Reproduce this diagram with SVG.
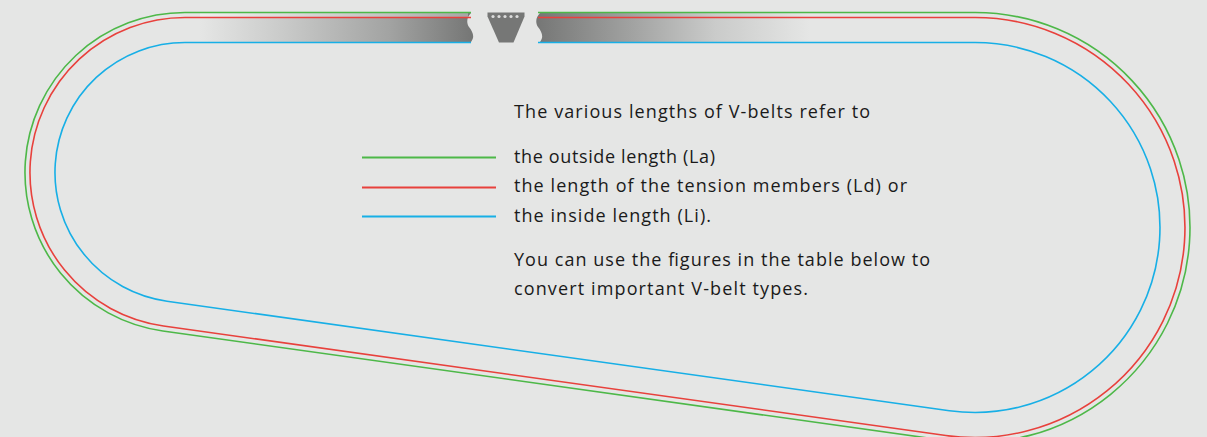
<svg xmlns="http://www.w3.org/2000/svg" width="1207" height="437" viewBox="0 0 1207 437">
  <style>
    .belt { fill: none; stroke-width: 1.6; stroke-linejoin: round; }
    .la { stroke: #4db848; }
    .ld { stroke: #e8413c; }
    .li { stroke: #17afe6; }
    .key { stroke-width: 2.2; }
    .txt { font-family: "Open Sans", "Liberation Sans", Arial, sans-serif; font-size: 18px; fill: #1a1a1a; }
    .rubber { fill: #767776; }
  </style>
  <defs>
    <linearGradient id="fadeLeft" gradientUnits="userSpaceOnUse" x1="200" y1="0" x2="471" y2="0">
      <stop offset="0" stop-color="#e5e6e5"/>
      <stop offset="0.3" stop-color="#cacbca"/>
      <stop offset="0.7" stop-color="#a2a3a2"/>
      <stop offset="1" stop-color="#767776"/>
    </linearGradient>
    <linearGradient id="fadeRight" gradientUnits="userSpaceOnUse" x1="538" y1="0" x2="810" y2="0">
      <stop offset="0" stop-color="#767776"/>
      <stop offset="0.35" stop-color="#a2a3a2"/>
      <stop offset="0.65" stop-color="#cacbca"/>
      <stop offset="1" stop-color="#e5e6e5"/>
    </linearGradient>
  </defs>

  <rect width="1207" height="437" fill="#e5e6e5"/>

  <!-- cut belt section on the top run -->
  <g id="belt-section">
    <path fill="url(#fadeLeft)" d="M200,13 H471 C467,17 466,22 469,27 C473,32 475,37 471,42 H200 Z"/>
    <path fill="url(#fadeRight)" d="M540,13 C536,17 535,22 538,27 C542,32 544,37 540,42 H810 V13 Z"/>
    <rect x="200" y="13" width="268" height="4.5" fill="#ffffff" opacity="0.35"/>
    <path class="rubber" d="M487.5,12.5 H524.5 V16.5 L513.5,42.5 H499 L487.5,16.5 Z"/>
    <g fill="#dcdcdc">
      <circle cx="493" cy="16.5" r="1.6"/>
      <circle cx="499" cy="16.5" r="1.6"/>
      <circle cx="505" cy="16.5" r="1.6"/>
      <circle cx="511" cy="16.5" r="1.6"/>
      <circle cx="517" cy="16.5" r="1.6"/>
    </g>
  </g>

  <!-- belt outlines around both pulleys -->
  <g id="connectors">
    <path class="belt la" d="M538,12.5 H975 A215,215 0 1 1 945.21,440.43 L162.83,330.96 A160,160 0 0 1 185,12.5 H471"/>
    <path class="belt ld" d="M538,17.5 H975 A210,210 0 1 1 945.90,435.48 L163.52,326.01 A155,155 0 0 1 185,17.5 H471"/>
    <path class="belt li" d="M538,42.5 H975 A185,185 0 1 1 949.37,410.72 L166.99,301.25 A130,130 0 0 1 185,42.5 H471"/>
  </g>

  <!-- legend -->
  <g id="intro">
    <text class="txt" x="514" y="118" textLength="356">The various lengths of V-belts refer to</text>
  </g>
  <g id="legend-la">
    <line class="la key" x1="362" y1="157.5" x2="496" y2="157.5"/>
    <text class="txt" x="514" y="163" textLength="201">the outside length (La)</text>
  </g>
  <g id="legend-ld">
    <line class="ld key" x1="362" y1="187.5" x2="496" y2="187.5"/>
    <text class="txt" x="514" y="192" textLength="393">the length of the tension members (Ld) or</text>
  </g>
  <g id="legend-li">
    <line class="li key" x1="362" y1="216.5" x2="496" y2="216.5"/>
    <text class="txt" x="514" y="222" textLength="197">the inside length (Li).</text>
  </g>
  <g id="note">
    <text class="txt" x="514" y="266" textLength="416">You can use the figures in the table below to</text>
    <text class="txt" x="514" y="295" textLength="294">convert important V-belt types.</text>
  </g>
</svg>
